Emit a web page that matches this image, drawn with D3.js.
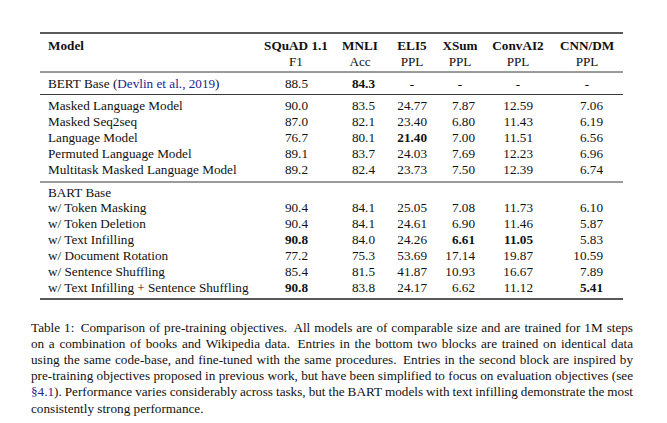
<!DOCTYPE html>
<html lang="en">
<head>
  <meta charset="utf-8">
  <title>Table 1: pre-training objectives</title>
  <script src="https://cdn.jsdelivr.net/npm/d3@7"></script>
  <style>
    body { margin: 0; background: #fff; }
  </style>
</head>
<body>
<script>
  // Width og height
  const w = 667;
  const h = 423;

  // Kolonner
  const tasks = ["SQuAD 1.1", "MNLI", "ELI5", "XSum", "ConvAI2", "CNN/DM"];
  const metrics = ["F1", "Acc", "PPL", "PPL", "PPL", "PPL"];

  // Rækker, blok for blok (null = "-")
  const block1Models = ["BERT Base"];
  const block1Values = [[88.5, 84.3, null, null, null, null]];

  const block2Models = ["Masked Language Model", "Masked Seq2seq", "Language Model",
    "Permuted Language Model", "Multitask Masked Language Model"];
  const block2Values = [
    [90.0, 83.5, 24.77, 7.87, 12.59, 7.06],
    [87.0, 82.1, 23.40, 6.80, 11.43, 6.19],
    [76.7, 80.1, 21.40, 7.00, 11.51, 6.56],
    [89.1, 83.7, 24.03, 7.69, 12.23, 6.96],
    [89.2, 82.4, 23.73, 7.50, 12.39, 6.74]
  ];

  const block3Models = ["BART Base", "w/ Token Masking", "w/ Token Deletion", "w/ Text Infilling",
    "w/ Document Rotation", "w/ Sentence Shuffling", "w/ Text Infilling + Sentence Shuffling"];
  const block3Values = [
    null,
    [90.4, 84.1, 25.05, 7.08, 11.73, 6.10],
    [90.4, 84.1, 24.61, 6.90, 11.46, 5.87],
    [90.8, 84.0, 24.26, 6.61, 11.05, 5.83],
    [77.2, 75.3, 53.69, 17.14, 19.87, 10.59],
    [85.4, 81.5, 41.87, 10.93, 16.67, 7.89],
    [90.8, 83.8, 24.17, 6.62, 11.12, 5.41]
  ];

  // Fede værdier: [model, kolonne]
  const boldCells = [
    ["BERT Base", "MNLI"], ["Language Model", "ELI5"],
    ["w/ Text Infilling", "SQuAD 1.1"], ["w/ Text Infilling", "XSum"], ["w/ Text Infilling", "ConvAI2"],
    ["w/ Text Infilling + Sentence Shuffling", "SQuAD 1.1"],
    ["w/ Text Infilling + Sentence Shuffling", "CNN/DM"]
  ];
  const decimals = [1, 1, 2, 2, 2, 2];

  const captionLines = [
    "Table 1:  Comparison of pre-training objectives.  All models are of comparable size and are trained for 1M steps",
    "on a combination of books and Wikipedia data.  Entries in the bottom two blocks are trained on identical data",
    "using the same code-base, and fine-tuned with the same procedures.  Entries in the second block are inspired by",
    "pre-training objectives proposed in previous work, but have been simplified to focus on evaluation objectives (see",
    "{§4.1}). Performance varies considerably across tasks, but the BART models with text infilling demonstrate the most",
    "consistently strong performance."
  ];

  const linkColor = "#23238e";
  const fontSize = 13.2;

  // Samlet rækkeliste
  const blocks = [
    [block1Models, block1Values],
    [block2Models, block2Values],
    [block3Models, block3Values]
  ];
  const rows = [];
  blocks.forEach(function (b, bi) {
    b[0].forEach(function (m, i) {
      rows.push({ model: m, values: b[1][i], block: bi, index: rows.length });
    });
  });

  const svg = d3.select("body").append("svg")
    .attr("width", w).attr("height", h)
    .attr("font-family", "Liberation Serif")
    .attr("font-size", fontSize)
    .attr("fill", "#111");

  // Skalaer
  const left = 40, right = 623;
  const headerX = d3.scaleOrdinal().domain(tasks).range([296, 360, 412, 460, 518, 587]);
  const valueX = d3.scaleOrdinal().domain(tasks).range([308, 375, 427, 475, 533, 603]);
  const rowY = d3.scaleLinear().domain([0, 1]).range([83, 98.9]);
  const blockGap = 6.8;
  function yOf(r) { return rowY(r.index) + r.block * blockGap; }

  const base = 4.5; // midte -> grundlinje

  // Linjer
  const rules = [
    { y: 33, wdt: 1.4 }, { y: 72, wdt: 0.9 }, { y: 94.5, wdt: 0.9 },
    { y: 182, wdt: 0.9 }, { y: 299, wdt: 1.4 }
  ];
  svg.selectAll("line.rule").data(rules).enter().append("line")
    .attr("class", "rule")
    .attr("x1", left).attr("x2", right)
    .attr("y1", function (d) { return d.y; }).attr("y2", function (d) { return d.y; })
    .attr("stroke", "#222").attr("stroke-width", function (d) { return d.wdt; });

  // Overskrift
  svg.append("text").attr("x", 48).attr("y", 45 + base)
    .attr("font-weight", "bold").text("Model");
  svg.selectAll("text.task").data(tasks).enter().append("text")
    .attr("class", "task")
    .attr("x", function (d) { return headerX(d); }).attr("y", 45 + base)
    .attr("text-anchor", "middle").attr("font-weight", "bold")
    .text(function (d) { return d; });
  svg.selectAll("text.metric").data(metrics).enter().append("text")
    .attr("class", "metric")
    .attr("x", function (d, i) { return headerX(tasks[i]); }).attr("y", 61 + base)
    .attr("text-anchor", "middle")
    .text(function (d) { return d; });

  // Modelnavne
  const names = svg.selectAll("text.model").data(rows).enter().append("text")
    .attr("class", "model")
    .attr("x", 48).attr("y", function (d) { return yOf(d) + base; });
  names.each(function (d) {
    const t = d3.select(this);
    t.append("tspan").text(d.model);
    if (d.model === "BERT Base") {
      t.append("tspan").text(" (");
      t.append("tspan").attr("fill", linkColor).text("Devlin et al., 2019");
      t.append("tspan").text(")");
    }
  });

  // Værdier
  const isBold = function (m, c) {
    return boldCells.some(function (b) { return b[0] === m && b[1] === c; });
  };
  const cells = [];
  rows.forEach(function (r) {
    if (!r.values) return;
    r.values.forEach(function (v, i) {
      cells.push({ row: r, task: tasks[i], v: v, dec: decimals[i] });
    });
  });
  svg.selectAll("text.cell").data(cells).enter().append("text")
    .attr("class", "cell")
    .attr("x", function (d) { return d.v === null ? headerX(d.task) : valueX(d.task); })
    .attr("y", function (d) { return yOf(d.row) + base; })
    .attr("text-anchor", function (d) { return d.v === null ? "middle" : "end"; })
    .attr("font-weight", function (d) { return isBold(d.row.model, d.task) ? "bold" : null; })
    .text(function (d) { return d.v === null ? "-" : d.v.toFixed(d.dec); });

  // Billedtekst, lige margener (dobbelt mellemrum = lidt bredere, som i TeX)
  const capLeft = 31, capRight = 633;
  const capY = d3.scaleLinear().domain([0, 1]).range([327, 343.2]);
  captionLines.forEach(function (line, li) {
    const tokens = line.split(/( +)/);
    const words = tokens.filter(function (t, i) { return i % 2 === 0; });
    const weights = tokens.filter(function (t, i) { return i % 2 === 1; })
      .map(function (s) { return s.length > 1 ? 1.6 : 1; });
    const g = svg.append("g");
    const nodes = words.map(function (wd) {
      const t = g.append("text").attr("y", capY(li) + base);
      const parts = wd.split(/([{}])/);
      let blue = false;
      parts.forEach(function (p) {
        if (p === "{") { blue = true; return; }
        if (p === "}") { blue = false; return; }
        if (p) t.append("tspan").attr("fill", blue ? linkColor : null).text(p);
      });
      return t;
    });
    const widths = nodes.map(function (n) { return n.node().getComputedTextLength(); });
    const total = d3.sum(widths);
    const last = li === captionLines.length - 1;
    const unit = last ? fontSize * 0.25 : (capRight - capLeft - total) / d3.sum(weights);
    let x = capLeft;
    nodes.forEach(function (n, i) {
      n.attr("x", x);
      x += widths[i] + (i < weights.length ? unit * weights[i] : 0);
    });
  });
</script>
</body>
</html>
